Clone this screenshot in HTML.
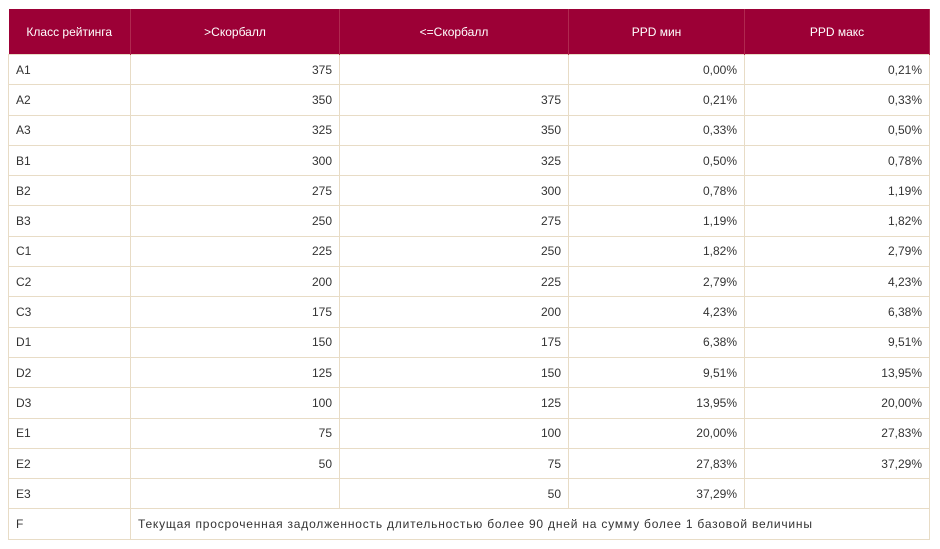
<!DOCTYPE html>
<html><head><meta charset="utf-8"><style>
body{margin:0;background:#fff;font-family:"Liberation Sans","DejaVu Sans",sans-serif;}
table{position:absolute;left:8px;top:9px;border-collapse:collapse;table-layout:fixed;width:921px;font-size:12px;color:#333;}
th{background:#9c0036;color:#fff;font-weight:normal;height:45px;padding:0 8px;border-right:1px solid #b0284f;text-align:center;}
td{height:29.3px;padding:0 7px;border:1px solid #e8dcc6;text-align:right;}
td:first-child{text-align:left;}
td.l{text-align:left;letter-spacing:0.8px;}
</style></head><body>
<table>
<colgroup><col style="width:122px"><col style="width:209px"><col style="width:229px"><col style="width:176px"><col style="width:185px"></colgroup>
<tr><th>Класс рейтинга</th><th>&gt;Скорбалл</th><th>&lt;=Скорбалл</th><th>PPD мин</th><th>PPD макс</th></tr>
<tr><td>A1</td><td>375</td><td></td><td>0,00%</td><td>0,21%</td></tr>
<tr><td>A2</td><td>350</td><td>375</td><td>0,21%</td><td>0,33%</td></tr>
<tr><td>A3</td><td>325</td><td>350</td><td>0,33%</td><td>0,50%</td></tr>
<tr><td>B1</td><td>300</td><td>325</td><td>0,50%</td><td>0,78%</td></tr>
<tr><td>B2</td><td>275</td><td>300</td><td>0,78%</td><td>1,19%</td></tr>
<tr><td>B3</td><td>250</td><td>275</td><td>1,19%</td><td>1,82%</td></tr>
<tr><td>C1</td><td>225</td><td>250</td><td>1,82%</td><td>2,79%</td></tr>
<tr><td>C2</td><td>200</td><td>225</td><td>2,79%</td><td>4,23%</td></tr>
<tr><td>C3</td><td>175</td><td>200</td><td>4,23%</td><td>6,38%</td></tr>
<tr><td>D1</td><td>150</td><td>175</td><td>6,38%</td><td>9,51%</td></tr>
<tr><td>D2</td><td>125</td><td>150</td><td>9,51%</td><td>13,95%</td></tr>
<tr><td>D3</td><td>100</td><td>125</td><td>13,95%</td><td>20,00%</td></tr>
<tr><td>E1</td><td>75</td><td>100</td><td>20,00%</td><td>27,83%</td></tr>
<tr><td>E2</td><td>50</td><td>75</td><td>27,83%</td><td>37,29%</td></tr>
<tr><td>E3</td><td></td><td>50</td><td>37,29%</td><td></td></tr>
<tr><td>F</td><td class="l" colspan="4">Текущая просроченная задолженность длительностью более 90 дней на сумму более 1 базовой величины</td></tr>
</table>
</body></html>
